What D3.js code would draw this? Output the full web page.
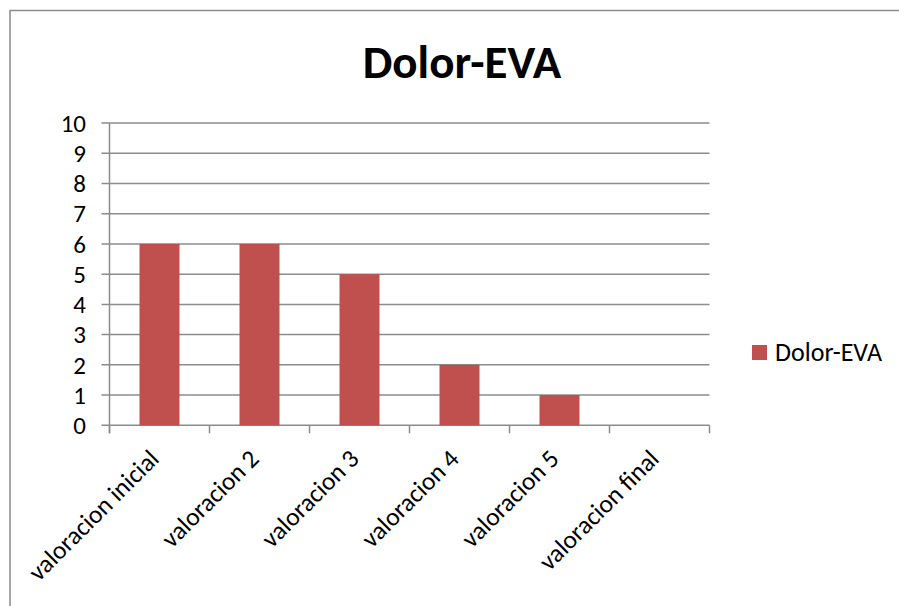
<!DOCTYPE html>
<html>
<head>
<meta charset="utf-8">
<script src="https://d3js.org/d3.v7.min.js"></script>
<style>
  body { margin: 0; background: #fff; }
  text { font-family: Carlito, Lato, "Liberation Sans", sans-serif; fill: #000; }
</style>
</head>
<body>
<script>
//Width and height
var w = 899;
var h = 606;

//Chart data
var categories = ["valoracion inicial", "valoracion 2", "valoracion 3", "valoracion 4", "valoracion 5", "valoracion final"];
var values = [6, 6, 5, 2, 1, 0];
var yTicks = [0, 1, 2, 3, 4, 5, 6, 7, 8, 9, 10];
var seriesName = "Dolor-EVA";

//Plot area
var plotLeft = 109.5, plotRight = 709.5, plotTop = 123, plotBottom = 425.3;

var x = d3.scaleBand()
            .domain(categories)
            .range([plotLeft, plotRight])
            .padding(0);

var y = d3.scaleLinear()
            .domain([0, 10])
            .range([plotBottom, plotTop]);

var svg = d3.select("body")
            .append("svg")
            .attr("width", w)
            .attr("height", h);

//Outer chart border (runs off the right and bottom edge)
svg.append("rect")
    .attr("x", 10)
    .attr("y", 10.5)
    .attr("width", 1000)
    .attr("height", 1000)
    .attr("fill", "none")
    .attr("stroke", "#8c8c8c")
    .attr("stroke-width", 1.5);

//Title
svg.append("text")
    .attr("x", 462)
    .attr("y", 78)
    .attr("text-anchor", "middle")
    .style("font-size", "47px")
    .style("font-weight", "bold")
    .text(seriesName);

//Gridlines
svg.append("g")
    .selectAll("line")
    .data(yTicks)
    .enter()
    .append("line")
    .attr("x1", plotLeft - 8)
    .attr("x2", plotRight)
    .attr("y1", function(d) { return y(d); })
    .attr("y2", function(d) { return y(d); })
    .style("stroke", "#8c8c8c")
    .style("stroke-width", 1.5);

//Bars
svg.append("g")
    .selectAll("rect")
    .data(values)
    .enter()
    .append("rect")
    .attr("x", function(d, i) { return x(categories[i]) + x.bandwidth() * 0.3; })
    .attr("width", x.bandwidth() * 0.4)
    .attr("y", function(d) { return y(d); })
    .attr("height", function(d) { return y(0) - y(d); })
    .style("fill", "#c0504d");

//Y axis line
svg.append("line")
    .attr("x1", plotLeft)
    .attr("x2", plotLeft)
    .attr("y1", plotTop)
    .attr("y2", plotBottom + 8)
    .style("stroke", "#8c8c8c")
    .style("stroke-width", 1.5);

//X axis ticks at band edges
var edges = categories.map(function(c) { return x(c); }).concat([plotRight]);
svg.append("g")
    .selectAll("line")
    .data(edges)
    .enter()
    .append("line")
    .attr("x1", function(d) { return d; })
    .attr("x2", function(d) { return d; })
    .attr("y1", plotBottom)
    .attr("y2", plotBottom + 8)
    .style("stroke", "#8c8c8c")
    .style("stroke-width", 1.5);

//Y tick labels
svg.append("g")
    .selectAll("text")
    .data(yTicks)
    .enter()
    .append("text")
    .attr("x", 86)
    .attr("y", function(d) { return y(d); })
    .attr("dy", "0.35em")
    .attr("text-anchor", "end")
    .style("font-size", "25px")
    .text(function(d) { return d; });

//X tick labels, rotated
svg.append("g")
    .selectAll("text")
    .data(categories)
    .enter()
    .append("text")
    .attr("text-anchor", "end")
    .attr("transform", function(d) {
        var cx = x(d) + x.bandwidth() / 2 + 1;
        return "translate(" + cx + "," + (plotBottom + 35) + ") rotate(-45)";
    })
    .style("font-size", "25.5px")
    .text(function(d) { return d; });

//Legend
var legend = svg.append("g")
    .attr("transform", "translate(752,345)");

legend.append("rect")
    .attr("width", 15)
    .attr("height", 15)
    .style("fill", "#c0504d");

legend.append("text")
    .attr("x", 23)
    .attr("y", 16)
    .style("font-size", "26px")
    .text(seriesName);
</script>
</body>
</html>
